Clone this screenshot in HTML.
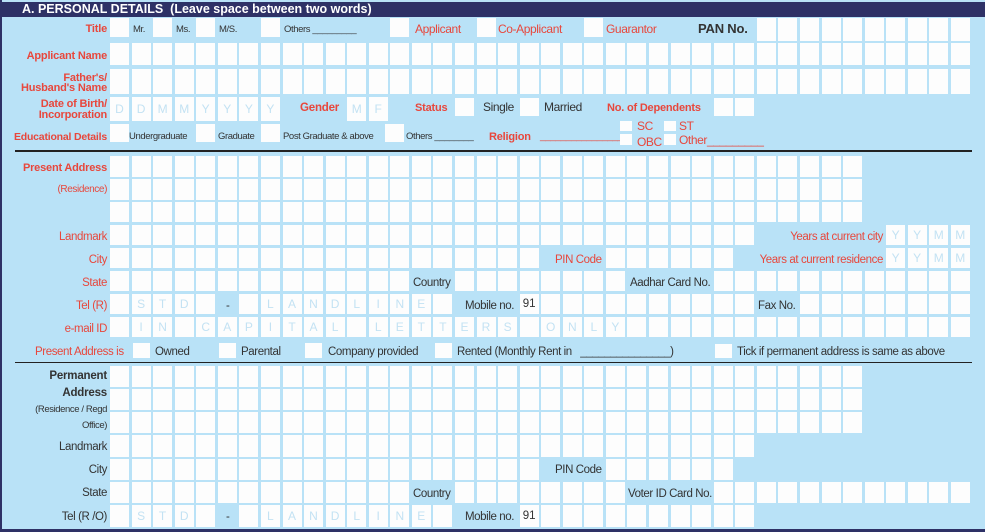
<!DOCTYPE html>
<html><head><meta charset="utf-8"><style>
html,body{margin:0;padding:0}
body{width:985px;height:532px;position:relative;overflow:hidden;background:#b9e2f7;font-family:"Liberation Sans",sans-serif}
.b{position:absolute;background:#fdfdfd;color:#c3e2f3;font-size:12px;text-align:center;box-sizing:border-box}
.t{position:absolute;white-space:nowrap;font-size:11.5px;color:#333;line-height:14px;letter-spacing:-0.4px}
.r{color:#e8473c}
.bo{font-weight:bold;letter-spacing:-0.2px}
.rt{text-align:right}
</style></head><body>
<div style="position:absolute;left:0;top:0;width:2px;height:532px;background:#2e3166"></div>
<div style="position:absolute;left:0;top:529px;width:985px;height:3px;background:#2e3166"></div>
<div style="position:absolute;left:0;top:2px;width:985px;height:15px;background:#2e3166"></div>
<div class="t bo" style="left:22px;top:2px;color:#fff;font-size:12.5px;letter-spacing:0">A. PERSONAL DETAILS&nbsp; (Leave space between two words)</div>
<div style="position:absolute;left:15px;top:150px;width:957px;height:2px;background:#222"></div>
<div style="position:absolute;left:15px;top:362px;width:957px;height:1px;background:#222"></div>
<div id="c"></div>
<script>
var C=document.getElementById('c'),h='';
function X(n){return 110+n*21.56}
function B(n,y,hh,t,st){h+='<div class="b" style="left:'+X(n).toFixed(1)+'px;top:'+y+'px;width:19px;height:'+hh+'px;line-height:'+hh+'px;'+(st||'')+'">'+(t||'')+'</div>'}
function R(a,b,y,hh,skip){for(var i=a;i<=b;i++){if(skip&&skip.indexOf(i)>=0)continue;B(i,y,hh)}}
function BX(x,y,w,hh){h+='<div class="b" style="left:'+x+'px;top:'+y+'px;width:'+w+'px;height:'+hh+'px"></div>'}
function T(x,y,t,c,fs){h+='<div class="t '+(c||'')+'" style="left:'+x+'px;top:'+y+'px;'+(fs?'font-size:'+fs+'px':'')+'">'+t+'</div>'}
function L(xr,y,t,c,fs){h+='<div class="t rt '+(c||'')+'" style="right:'+(985-xr)+'px;top:'+y+'px;'+(fs?'font-size:'+fs+'px':'')+'">'+t+'</div>'}
// title
L(107,22,'Title','r bo',11);
[0,2,4,7,13,17,22].forEach(function(n){B(n,18,19)});
T(133,23,'Mr.','',9.5);T(176,23,'Ms.','',9.5);T(219,23,'M/S.','',9.5);T(284,23,'Others _________','',9.5);
T(415,22,'Applicant','r',12);T(498,22,'Co-Applicant','r',12);T(606,22,'Guarantor','r',12);
T(698,22,'PAN No.','bo',13);
R(30,39,18,23);
L(107,49,'Applicant Name','r bo',11);R(0,39,43,22);
L(107,71,"Father's/",'r bo',11);L(107,81,"Husband's Name",'r bo',11);R(0,39,69,25);
L(107,97,'Date of Birth/','r bo',11);L(107,108,'Incorporation','r bo',11);
'DDMMYYYY'.split('').forEach(function(c,i){B(i,97,24,c)});
T(300,101,'Gender','r bo',11.5);B(11,97,24,'M');B(12,97,24,'F');
T(415,101,'Status','r bo',11);B(16,98,18);T(483,100,'Single','',12);B(19,98,18);T(544,100,'Married','',12);
T(607,101,'No. of Dependents','r bo',11);B(28,98,18);B(29,98,18);
L(107,130,'Educational Details','r bo',10.5);
B(0,124,18);T(129,130,'Undergraduate','',9.5);B(4,124,18);T(218,130,'Graduate','',9.5);
B(7,124,18);T(283,130,'Post Graduate &amp; above','',9.5);BX(385,124,19,18);T(406,130,'Others ________','',9.5);
T(489,130,'Religion','r bo',11);T(540,130,'________________','r',10);
BX(620,121,12,10);T(637,119,'SC','r',12);BX(664,121,12,10);T(679,119,'ST','r',12);
BX(620,134,12,11);T(637,135,'OBC','r',12);BX(664,134,12,11);T(679,133,'Other_________','r',12);
// present address
L(107,161,'Present Address','r bo',11);L(107,183,'(Residence)','r',10);
R(0,34,156,21);R(0,34,179,21);R(0,34,202,20);
L(107,230,'Landmark','r');R(0,29,225,20);L(883,230,'Years at current city','r');
'YYMM'.split('').forEach(function(c,i){B(36+i,225,20,c)});
L(107,253,'City','r');R(0,19,248,20);T(555,253,'PIN Code','r');R(23,28,248,20);
L(883,253,'Years at current residence','r');'YYMM'.split('').forEach(function(c,i){B(36+i,248,20,c)});
L(107,276,'State','r');R(0,13,271,20);T(413,276,'Country');R(16,23,271,20);T(630,276,'Aadhar Card No.');R(28,39,271,20);
L(107,299,'Tel (R)','r');
var tel=['','S','T','D','',null,'','L','A','N','D','L','I','N','E',''];
function tels(y,hh){tel.forEach(function(c,i){if(c!==null)B(i,y,hh,c)});T(226,y+5,'-');T(465,y+5,'Mobile no.');B(19,y,hh,'91','color:#333;font-size:11.5px')}
tels(294,20);R(20,29,294,20);T(758,299,'Fax No.');R(32,39,294,20);
L(107,322,'e-mail ID','r');
var em=['','I','N','','C','A','P','I','T','A','L','','L','E','T','T','E','R','S','','O','N','L','Y'];
for(var i=0;i<=39;i++)B(i,317,20,em[i]||'');
T(35,345,'Present Address is','r');
BX(133,343,17,15);T(155,345,'Owned');BX(219,343,17,15);T(241,345,'Parental');
BX(305,343,17,15);T(328,345,'Company provided');BX(435,343,17,15);T(457,345,'Rented (Monthly Rent in &nbsp;&nbsp;_______________)');
BX(715,344,17,14);T(737,345,'Tick if permanent address is same as above');
// permanent
L(107,369,'Permanent','bo');L(107,386,'Address','bo');L(107,403,'(Residence / Regd','',9.5);L(107,419,'Office)','',9.5);
R(0,34,366,21);R(0,34,389,21);R(0,34,412,21);
L(107,440,'Landmark');R(0,29,435,22);
L(107,463,'City');R(0,19,459,21);T(555,463,'PIN Code');R(23,28,459,21);
L(107,486,'State');R(0,13,482,21);T(413,487,'Country');R(16,23,482,21);T(628,487,'Voter ID Card No.');R(28,39,482,21);
L(107,510,'Tel (R /O)');tels(505,22);R(20,29,505,22);
C.innerHTML=h;
</script>
</body></html>
